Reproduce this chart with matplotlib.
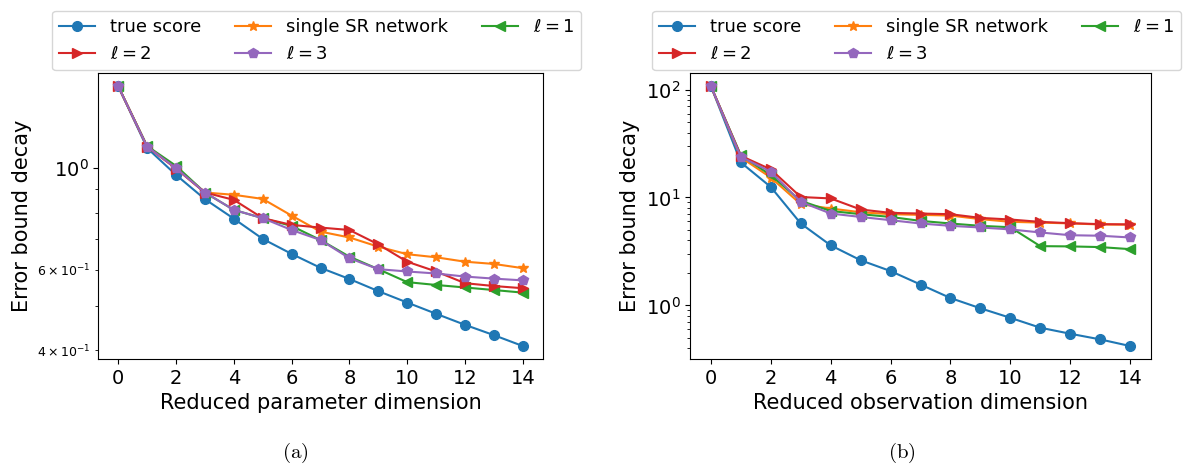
import numpy as np
import matplotlib
matplotlib.use("Agg")
import matplotlib.pyplot as plt

# -------- data --------
dims = np.arange(15)

# (a) reduced parameter dimension
a_true = [1.51, 1.107, 0.967, 0.856, 0.776, 0.701, 0.650, 0.606, 0.573, 0.539,
          0.509, 0.481, 0.455, 0.432, 0.409]
a_single = [1.51, 1.115, 1.0, 0.885, 0.875, 0.857, 0.788, 0.727, 0.706, 0.674,
            0.649, 0.639, 0.625, 0.618, 0.605]
a_l1 = [1.51, 1.118, 1.012, 0.885, 0.811, 0.778, 0.748, 0.697, 0.641, 0.602,
        0.564, 0.556, 0.549, 0.542, 0.535]
a_l2 = [1.51, 1.115, 0.998, 0.885, 0.853, 0.778, 0.752, 0.742, 0.733, 0.682,
        0.625, 0.595, 0.561, 0.553, 0.547]
a_l3 = [1.51, 1.115, 1.0, 0.885, 0.811, 0.778, 0.733, 0.697, 0.636, 0.602,
        0.595, 0.589, 0.580, 0.574, 0.569]

# (b) reduced observation dimension
b_true = [107.3, 21.1, 12.5, 5.74, 3.6, 2.62, 2.08, 1.56, 1.17, 0.94,
          0.767, 0.621, 0.546, 0.484, 0.42]
b_single = [107.3, 23.5, 15.3, 8.67, 7.9, 7.3, 7.0, 6.9, 6.8, 6.3,
            5.95, 5.85, 5.75, 5.62, 5.6]
b_l1 = [107.3, 24.6, 16.1, 9.3, 7.5, 7.0, 6.6, 6.07, 5.74, 5.46,
        5.3, 3.54, 3.52, 3.47, 3.32]
b_l2 = [107.3, 24.3, 18.2, 10.1, 9.8, 7.74, 7.2, 7.1, 7.0, 6.47,
        6.25, 5.94, 5.78, 5.66, 5.63]
b_l3 = [107.3, 23.8, 17.3, 9.1, 7.1, 6.6, 6.16, 5.74, 5.46, 5.27,
        5.06, 4.74, 4.47, 4.42, 4.26]

labels = ["true score", "single SR network", r"$\ell = 1$", r"$\ell = 2$", r"$\ell = 3$"]
markers = ["o", "*", "<", ">", "p"]
colors = ["C0", "C1", "C2", "C3", "C4"]

fig = plt.figure(figsize=(11.85, 4.66), dpi=100)

panels = [
    ([98 / 1185, 0.2296, 445 / 1185, 0.6131], [a_true, a_single, a_l1, a_l2, a_l3],
     "Reduced parameter dimension", 52 / 1185, "(a)", 295 / 1185),
    ([690 / 1185, 0.2296, 461 / 1185, 0.6131], [b_true, b_single, b_l1, b_l2, b_l3],
     "Reduced observation dimension", 652 / 1185, "(b)", 902 / 1185),
]

for rect, series, xlab, leg_x, cap, cap_x in panels:
    ax = fig.add_axes(rect)
    lines = []
    for vals, lab, m, c in zip(series, labels, markers, colors):
        ln, = ax.plot(dims, vals, marker=m, color=c, label=lab, markersize=7)
        lines.append(ln)
    ax.set_yscale("log")
    ax.set_xticks(range(0, 15, 2))
    ax.set_xlabel(xlab, fontsize=15)
    ax.set_ylabel("Error bound decay", fontsize=15)
    ax.tick_params(axis="both", which="major", labelsize=14)
    ax.tick_params(axis="y", which="minor", labelsize=9)

    # legend order so rows read: true / single / l=1, then l=2 / l=3
    order = [0, 3, 1, 4, 2]
    fig.legend([lines[i] for i in order], [labels[i] for i in order],
               ncol=3, fontsize=13, loc="upper left",
               bbox_to_anchor=(leg_x, 1 - 10.7 / 466), borderaxespad=0,
               columnspacing=1.9)

    fig.text(cap_x, 13 / 466, r"$\mathrm{" + cap + "}$", fontsize=15,
             ha="center", va="center", math_fontfamily="cm")

plt.savefig("out.png", dpi=100)
